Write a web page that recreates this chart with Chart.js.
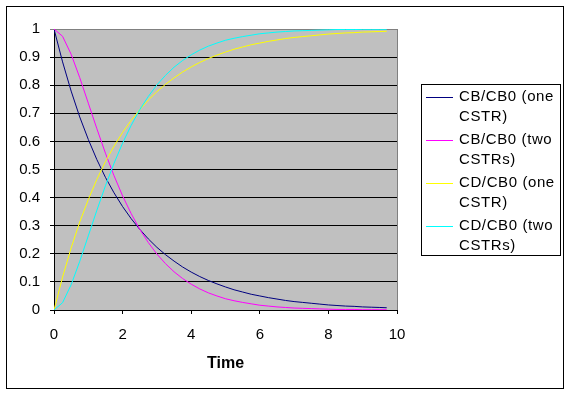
<!DOCTYPE html>
<html>
<head>
<meta charset="utf-8">
<script src="https://cdn.jsdelivr.net/npm/chart.js@4"></script>
<style>
  body { margin: 0; background: #fff; }
  canvas { display: block; }
</style>
</head>
<body>
<canvas id="grafico" width="571" height="395"></canvas>
<script>
// tiempos
const tiempos = [0, 0.25, 0.5, 0.75, 1, 1.25, 1.5, 1.75, 2, 2.25, 2.5, 2.75, 3, 3.25, 3.5, 3.75,
  4, 4.25, 4.5, 4.75, 5, 5.25, 5.5, 5.75, 6, 6.25, 6.5, 6.75, 7, 7.25, 7.5, 7.75,
  8, 8.25, 8.5, 8.75, 9, 9.25, 9.5, 9.7];

const cbUno = [1, 0.883, 0.779, 0.687, 0.607, 0.535, 0.472, 0.417, 0.368, 0.325, 0.287, 0.253, 0.223, 0.197, 0.174, 0.153,
  0.135, 0.119, 0.105, 0.093, 0.082, 0.072, 0.064, 0.056, 0.050, 0.044, 0.039, 0.034, 0.030, 0.027, 0.024, 0.021,
  0.018, 0.016, 0.014, 0.013, 0.011, 0.010, 0.009, 0.008];

const cbDos = [1, 0.974, 0.910, 0.827, 0.736, 0.645, 0.558, 0.478, 0.406, 0.343, 0.287, 0.240, 0.199, 0.165, 0.136, 0.112,
  0.092, 0.075, 0.061, 0.050, 0.040, 0.033, 0.027, 0.022, 0.017, 0.014, 0.011, 0.009, 0.007, 0.006, 0.005, 0.004,
  0.003, 0.002, 0.002, 0.002, 0.001, 0.001, 0.001, 0.001];

const cdUno = [0, 0.117, 0.221, 0.313, 0.393, 0.465, 0.528, 0.583, 0.632, 0.675, 0.713, 0.747, 0.777, 0.803, 0.826, 0.847,
  0.865, 0.881, 0.895, 0.907, 0.918, 0.928, 0.936, 0.944, 0.950, 0.956, 0.961, 0.966, 0.970, 0.973, 0.976, 0.979,
  0.982, 0.984, 0.986, 0.987, 0.989, 0.990, 0.991, 0.992];

const cdDos = [0, 0.026, 0.090, 0.173, 0.264, 0.355, 0.442, 0.522, 0.594, 0.657, 0.713, 0.760, 0.801, 0.835, 0.864, 0.888,
  0.908, 0.925, 0.939, 0.950, 0.960, 0.967, 0.973, 0.978, 0.983, 0.986, 0.989, 0.991, 0.993, 0.994, 0.995, 0.996,
  0.997, 0.998, 0.998, 0.998, 0.999, 0.999, 0.999, 0.999];

const nombres = ['CB/CB0 (one CSTR)', 'CB/CB0 (two CSTRs)', 'CD/CB0 (one CSTR)', 'CD/CB0 (two CSTRs)'];
const lineasLeyenda = [['CB/CB0 (one', 'CSTR)'], ['CB/CB0 (two', 'CSTRs)'], ['CD/CB0 (one', 'CSTR)'], ['CD/CB0 (two', 'CSTRs)']];
const colores = ['#000080', '#ff00ff', '#ffff00', '#00ffff'];
const yEtiquetas = ['0', '0.1', '0.2', '0.3', '0.4', '0.5', '0.6', '0.7', '0.8', '0.9', '1'];

const series = [cbUno, cbDos, cdUno, cdDos];
const fuente = "'Liberation Sans', Arial, sans-serif";

function puntos(valores) {
  return tiempos.map((t, i) => ({ x: t, y: valores[i] }));
}

const fondoYMarco = {
  id: 'fondoYMarco',
  beforeDraw(chart) {
    const ctx = chart.ctx;
    const a = chart.chartArea;
    ctx.save();
    ctx.fillStyle = '#fff';
    ctx.fillRect(0, 0, chart.width, chart.height);
    ctx.strokeStyle = '#000';
    ctx.lineWidth = 1;
    ctx.strokeRect(6.5, 6.5, 557, 382);
    ctx.fillStyle = '#c0c0c0';
    ctx.fillRect(a.left, a.top, a.right - a.left, a.bottom - a.top);
    ctx.restore();
  },
  afterDraw(chart) {
    const ctx = chart.ctx;
    const a = chart.chartArea;
    ctx.save();
    ctx.strokeStyle = '#808080';
    ctx.lineWidth = 1;
    ctx.beginPath();
    ctx.moveTo(Math.round(a.right) + 0.5, a.top);
    ctx.lineTo(Math.round(a.right) + 0.5, a.bottom);
    ctx.stroke();

    // leyenda propia con texto en dos lineas
    ctx.strokeStyle = '#000';
    ctx.strokeRect(421.5, 84.5, 139, 171);
    ctx.font = '15px ' + fuente;
    ctx.letterSpacing = '0.6px';
    ctx.textBaseline = 'middle';
    ctx.textAlign = 'left';
    ctx.fillStyle = '#000';
    lineasLeyenda.forEach((lineas, i) => {
      const y = 97 + i * 43;
      ctx.strokeStyle = colores[i];
      ctx.beginPath();
      ctx.moveTo(426, y + 0.5);
      ctx.lineTo(453, y + 0.5);
      ctx.stroke();
      ctx.fillText(lineas[0], 459, y);
      ctx.fillText(lineas[1], 459, y + 20);
    });
    ctx.restore();
  }
};

new Chart(document.getElementById('grafico'), {
  type: 'line',
  data: {
    datasets: series.map((s, i) => ({
      label: nombres[i],
      data: puntos(s),
      borderColor: colores[i],
      borderWidth: 1,
      pointRadius: 0,
      tension: 0,
      fill: false,
      order: 3 - i
    }))
  },
  options: {
    responsive: false,
    animation: false,
    devicePixelRatio: 1,
    layout: { padding: { left: 0, top: 29, right: 174, bottom: 0 } },
    plugins: { legend: { display: false }, tooltip: { enabled: false } },
    scales: {
      x: {
        type: 'linear',
        min: 0,
        max: 10,
        afterFit: s => { s.height = 85; },
        ticks: { stepSize: 2, color: '#000', padding: 12, maxRotation: 0, font: { family: fuente, size: 15 } },
        grid: { drawOnChartArea: false, drawTicks: true, tickLength: 4, color: '#000' },
        border: { color: '#000' },
        title: { display: true, text: 'Time', color: '#000', font: { family: fuente, size: 16, weight: 'bold' }, padding: { top: 0, bottom: 22 } }
      },
      y: {
        min: 0,
        max: 1,
        afterFit: s => { s.width = 54; },
        afterBuildTicks: s => { s.ticks = yEtiquetas.map((_, i) => ({ value: i / 10 })); },
        ticks: { color: '#000', padding: 10, callback: (v, i) => yEtiquetas[i], font: { family: fuente, size: 15 } },
        grid: { color: c => (c.tick && c.tick.value === 1 ? '#808080' : '#000'), tickLength: 4 },
        border: { color: '#000' }
      }
    }
  },
  plugins: [fondoYMarco]
});
</script>
</body>
</html>
